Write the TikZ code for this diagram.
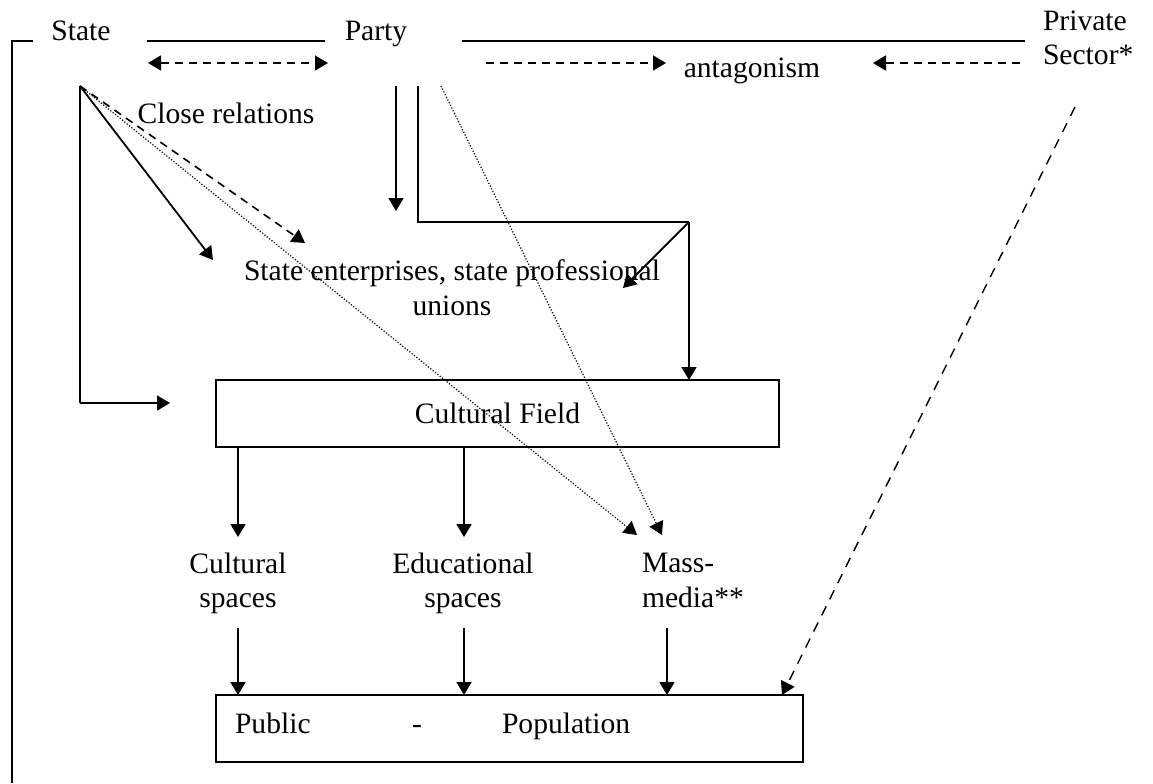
\documentclass[tikz,border=0pt]{standalone}
\usepackage{fontspec}
\setmainfont{Liberation Serif}
\usetikzlibrary{arrows.meta,calc}
\begin{document}
\begin{tikzpicture}[x=0.5pt,y=-0.5pt,
  txt/.style={font=\fontsize{14.8}{17.3}\selectfont, inner sep=0pt, outer sep=0pt},
  ln/.style={line width=0.9pt},
  tip/.style={-{Triangle[length=6.5pt,width=7.5pt]}},
  arr/.style={ln,tip},
  dasharr/.style={line width=0.8pt,tip,dash pattern=on 4pt off 3pt},
  longdash/.style={line width=0.7pt,tip,dash pattern=on 5pt off 4pt},
  dotarr/.style={line width=0.6pt,tip,dash pattern=on 0.6pt off 0.9pt},
  boxed/.style={draw,ln,inner sep=0pt,outer sep=0pt}]
\useasboundingbox (0,0) rectangle (1153,783);
\fill[white] (0,0) rectangle (1153,783);

% ---- top labels ----
\node[txt,anchor=base] (state) at (81,40) {State};
\node[txt,anchor=base] (party) at (376,40) {Party};
\node[txt,align=left,anchor=west] (priv) at (1043,38) {Private\\Sector*};
\node[txt,anchor=base] (antag) at (752,77) {antagonism};
\node[txt,anchor=base] (close) at (226,123) {Close relations};

% ---- frame line ----
\coordinate (fL) at (12,41);
\coordinate (fA) at (33,41);
\coordinate (fB) at (147,41);
\coordinate (fC) at (325,41);
\coordinate (fD) at (462,41);
\coordinate (fE) at (1025,41);
\coordinate (fBot) at (12,783);
\draw[ln] (fBot) -- (fL) -- (fA);
\draw[ln] (fB) -- (fC);
\draw[ln] (fD) -- (fE);

% ---- dashed relation arrows ----
\coordinate (dr1) at (148,63);
\coordinate (dr2) at (328,63);
\draw[dasharr,{Triangle[length=6.5pt,width=7.5pt]}-{Triangle[length=6.5pt,width=7.5pt]}] (dr1) -- (dr2);
\coordinate (pa1) at (486,63);
\coordinate (pa2) at (666,63);
\draw[dasharr] (pa1) -- (pa2);
\coordinate (pv1) at (1020,63);
\coordinate (pv2) at (873,63);
\draw[dasharr] (pv1) -- (pv2);

% ---- middle nodes ----
\node[txt,align=center] (ent) at (452,287.5) {State enterprises, state professional\\unions};
\node[boxed,txt,draw,line width=0.9pt,minimum width=281.5pt,minimum height=33.5pt] (cf) at (497.5,413.5) {Cultural Field};

\node[txt,align=center] (cs) at (238,583.5) {Cultural\\spaces};
\node[txt,align=center] (es) at (463,583.5) {Educational\\spaces};
\node[txt,align=left,anchor=west] (mm) at (642,580.7) {Mass-\\media**};

\node[boxed,minimum width=293.5pt,minimum height=33.5pt] (pub) at (509.5,728.5) {};
\node[txt,anchor=base west] (pubA) at (235,733) {Public};
\node[txt,anchor=base] (pubB) at (417,733) {-};
\node[txt,anchor=base west] (pubC) at (502,733) {Population};

% ---- State connectors ----
\coordinate (sO) at (80,86);
\coordinate (sCorner) at (80,403);
\coordinate (sCF) at (170,403);
\coordinate (entA) at (213,260);
\coordinate (entB) at (305,243);
\coordinate (mmIn1) at (637,535);
\coordinate (mmIn2) at (662,535);
\draw[ln] (sO) -- (sCorner);
\draw[arr] (sCorner) -- (sCF);
\draw[arr] (sO) -- (entA);
\draw[dasharr] (sO) -- (entB);
\draw[dotarr] (sO) -- (mmIn1);

% ---- Party connectors ----
\coordinate (pO1) at (396,86);
\coordinate (pT1) at (396,211);
\draw[arr] (pO1) -- (pT1);
\coordinate (pO2) at (418,86);
\coordinate (pB2) at (418,222);
\coordinate (pC2) at (689,222);
\coordinate (entC) at (623,288);
\draw[ln] (pO2) -- (pB2) -- (pC2);
\draw[arr] (pC2) -- (cf.north -| pC2);
\draw[arr] (pC2) -- (entC);
\coordinate (pO3) at (441,86);
\draw[dotarr] (pO3) -- (mmIn2);

% ---- Private sector ----
\coordinate (prO) at (1075,107);
\coordinate (prT) at (782,695);
\draw[longdash] (prO) -- (prT);

% ---- Cultural field to spaces ----
\coordinate (csIn) at (238,537);
\coordinate (esIn) at (464,537);
\draw[arr] (cf.south -| csIn) -- (csIn);
\draw[arr] (cf.south -| esIn) -- (esIn);

% ---- spaces to public ----
\coordinate (csOut) at (238,628);
\coordinate (esOut) at (464,628);
\coordinate (mmOut) at (667,628);
\draw[arr] (csOut) -- (pub.north -| csOut);
\draw[arr] (esOut) -- (pub.north -| esOut);
\draw[arr] (mmOut) -- (pub.north -| mmOut);
\end{tikzpicture}
\end{document}
